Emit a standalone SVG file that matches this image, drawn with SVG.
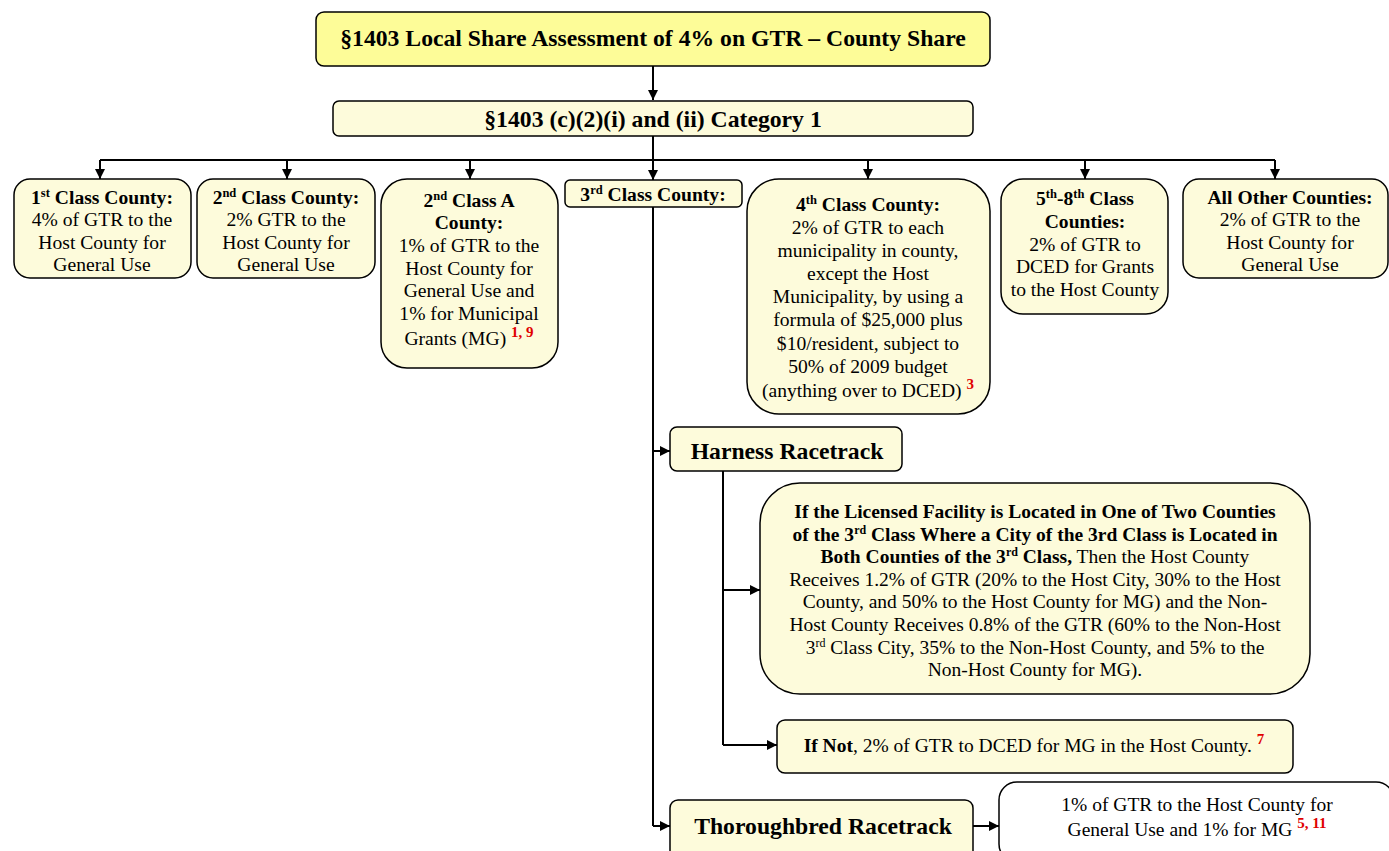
<svg xmlns="http://www.w3.org/2000/svg" width="1389" height="851" viewBox="0 0 1389 851">
<defs>
<marker id="ah" viewBox="0 0 10 10" refX="10" refY="5" markerWidth="10" markerHeight="10" markerUnits="userSpaceOnUse" orient="auto">
<path d="M0,0 L10,5 L0,10 z" fill="#000"/>
</marker>
<style>
.box{fill:#fdfbdb;stroke:#000;stroke-width:1.5}
.white{fill:#fff;stroke:#000;stroke-width:1.5}
.title{fill:#fdfc98;stroke:#000;stroke-width:1.5}
text{font-family:"Liberation Serif","Times New Roman",serif;fill:#000;text-anchor:middle}
.t{font-size:19.6px}
.s{font-size:19.5px}
.h{font-size:23.7px;font-weight:bold}
.b{font-weight:bold}
.red{fill:#e00000;font-weight:bold;font-size:15px}
.ln{stroke:#000;stroke-width:2;fill:none}
</style>
</defs>
<rect width="1389" height="851" fill="#fff"/>

<g id="connectors">
<path class="ln" d="M653,66 V100" marker-end="url(#ah)"/>
<path class="ln" d="M653,136 V160"/>
<path class="ln" d="M100,160 H1275"/>
<path class="ln" d="M100,160 V179" marker-end="url(#ah)"/>
<path class="ln" d="M287,160 V179" marker-end="url(#ah)"/>
<path class="ln" d="M470,160 V179" marker-end="url(#ah)"/>
<path class="ln" d="M653,160 V180" marker-end="url(#ah)"/>
<path class="ln" d="M868,160 V179" marker-end="url(#ah)"/>
<path class="ln" d="M1085,160 V179" marker-end="url(#ah)"/>
<path class="ln" d="M1275,160 V179" marker-end="url(#ah)"/>
<path class="ln" d="M653,207 V826"/>
<path class="ln" d="M653,451 H670" marker-end="url(#ah)"/>
<path class="ln" d="M653,826 H670" marker-end="url(#ah)"/>
<path class="ln" d="M723,471 V745"/>
<path class="ln" d="M723,590 H760" marker-end="url(#ah)"/>
<path class="ln" d="M723,745 H777" marker-end="url(#ah)"/>
<path class="ln" d="M973,826 H999" marker-end="url(#ah)"/>
</g>

<g id="n-title">
<rect class="title" x="316" y="12" width="674" height="54" rx="8"/>
<text class="h" x="653" y="46">§1403 Local Share Assessment of 4% on GTR – County Share</text>
</g>

<g id="n-category">
<rect class="box" x="333" y="101" width="640" height="35" rx="6"/>
<text class="h" x="653" y="127">§1403 (c)(2)(i) and (ii) Category 1</text>
</g>

<g id="n-1st">
<rect class="box" x="14" y="179" width="177" height="99" rx="16"/>
<text class="t b" x="102" y="204">1<tspan font-size="12.5" baseline-shift="super">st</tspan> Class County:</text>
<text class="t" x="102" y="226">4% of GTR to the</text>
<text class="t" x="102" y="249">Host County for</text>
<text class="t" x="102" y="271">General Use</text>
</g>

<g id="n-2nd">
<rect class="box" x="197" y="179" width="178" height="99" rx="16"/>
<text class="t b" x="286" y="204">2<tspan font-size="12.5" baseline-shift="super">nd</tspan> Class County:</text>
<text class="t" x="286" y="226">2% GTR to the</text>
<text class="t" x="286" y="249">Host County for</text>
<text class="t" x="286" y="271">General Use</text>
</g>

<g id="n-2ndA">
<rect class="box" x="381" y="179" width="177" height="189" rx="26"/>
<text class="t b" x="469" y="207">2<tspan font-size="12.5" baseline-shift="super">nd</tspan> Class A</text>
<text class="t b" x="469" y="229">County:</text>
<text class="t" x="469" y="252">1% of GTR to the</text>
<text class="t" x="469" y="275">Host County for</text>
<text class="t" x="469" y="297">General Use and</text>
<text class="t" x="469" y="320">1% for Municipal</text>
<text class="t" x="469" y="345">Grants (MG) <tspan class="red" baseline-shift="super">1, 9</tspan></text>
</g>

<g id="n-3rd">
<rect class="box" x="565" y="180" width="177" height="27" rx="5"/>
<text class="t b" x="653" y="201">3<tspan font-size="12.5" baseline-shift="super">rd</tspan> Class County:</text>
</g>

<g id="n-4th">
<rect class="box" x="747" y="179" width="243" height="235" rx="32"/>
<text class="t b" x="868" y="211">4<tspan font-size="12.5" baseline-shift="super">th</tspan> Class County:</text>
<text class="t" x="868" y="234">2% of GTR to each</text>
<text class="t" x="868" y="257">municipality in county,</text>
<text class="t" x="868" y="280">except the Host</text>
<text class="t" x="868" y="303">Municipality, by using a</text>
<text class="t" x="868" y="326">formula of $25,000 plus</text>
<text class="t" x="868" y="350">$10/resident, subject to</text>
<text class="t" x="868" y="373">50% of 2009 budget</text>
<text class="t" x="868" y="397">(anything over to DCED) <tspan class="red" baseline-shift="super">3</tspan></text>
</g>

<g id="n-5th8th">
<rect class="box" x="1001" y="179" width="167" height="135" rx="22"/>
<text class="t b" x="1085" y="205">5<tspan font-size="12.5" baseline-shift="super">th</tspan>-8<tspan font-size="12.5" baseline-shift="super">th</tspan> Class</text>
<text class="t b" x="1085" y="228">Counties:</text>
<text class="t" x="1085" y="251">2% of GTR to</text>
<text class="t" x="1085" y="273">DCED for Grants</text>
<text class="t" x="1085" y="296">to the Host County</text>
</g>

<g id="n-allother">
<rect class="box" x="1183" y="179" width="205" height="99" rx="16"/>
<text class="t b" x="1290" y="204">All Other Counties:</text>
<text class="t" x="1290" y="226">2% of GTR to the</text>
<text class="t" x="1290" y="249">Host County for</text>
<text class="t" x="1290" y="271">General Use</text>
</g>

<g id="n-harness">
<rect class="box" x="670" y="427" width="232" height="44" rx="7"/>
<text class="h" x="787" y="459">Harness Racetrack</text>
</g>

<g id="n-harness-if">
<rect class="box" x="760" y="483" width="550" height="211" rx="40"/>
<text class="s b" x="1035" y="518">If the Licensed Facility is Located in One of Two Counties</text>
<text class="s b" x="1035" y="541">of the 3<tspan font-size="12" baseline-shift="super">rd</tspan> Class Where a City of the 3rd Class is Located in</text>
<text class="s" x="1035" y="563"><tspan class="b">Both Counties of the 3<tspan font-size="12" baseline-shift="super">rd</tspan> Class,</tspan> Then the Host County</text>
<text class="s" x="1035" y="586">Receives 1.2% of GTR (20% to the Host City, 30% to the Host</text>
<text class="s" x="1035" y="608">County, and 50% to the Host County for MG) and the Non-</text>
<text class="s" x="1035" y="631">Host County Receives 0.8% of the GTR (60% to the Non-Host</text>
<text class="s" x="1035" y="654">3<tspan font-size="12" baseline-shift="super">rd</tspan> Class City, 35% to the Non-Host County, and 5% to the</text>
<text class="s" x="1035" y="676">Non-Host County for MG).</text>
</g>

<g id="n-harness-ifnot">
<rect class="box" x="777" y="720" width="516" height="53" rx="8"/>
<text class="s" x="1034" y="752"><tspan class="b">If Not</tspan>, 2% of GTR to DCED for MG in the Host County. <tspan class="red" baseline-shift="super">7</tspan></text>
</g>

<g id="n-thoroughbred">
<rect class="box" x="670" y="800" width="303" height="60" rx="8"/>
<text class="h" x="823" y="834">Thoroughbred Racetrack</text>
</g>

<g id="n-thoroughbred-result">
<rect class="white" x="999" y="782" width="395" height="80" rx="18"/>
<text class="s" x="1197" y="811">1% of GTR to the Host County for</text>
<text class="s" x="1197" y="836">General Use and 1% for MG <tspan class="red" baseline-shift="super">5, 11</tspan></text>
</g>
</svg>
